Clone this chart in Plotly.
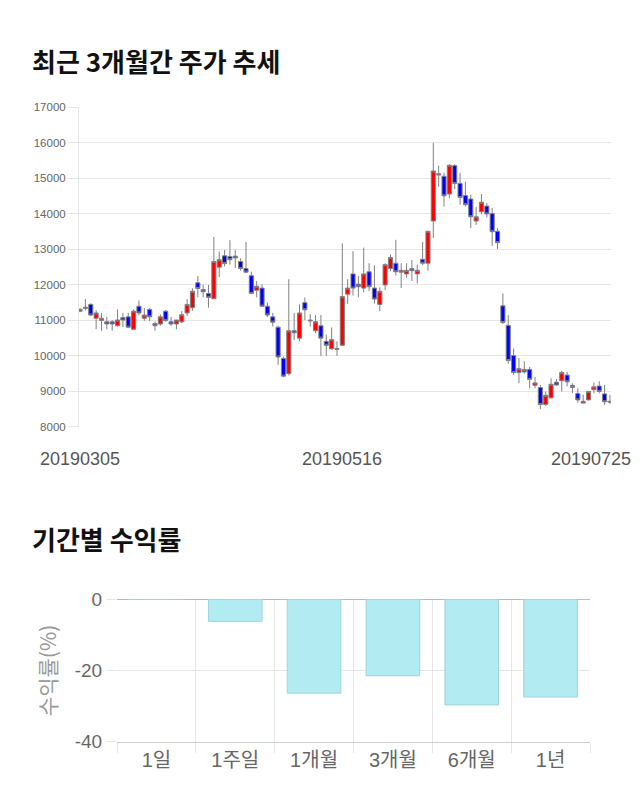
import plotly.graph_objects as go

# ---------------- data ----------------
march = [5, 6, 7, 8, 11, 12, 13, 14, 15, 18, 19, 20, 21, 22, 25, 26, 27, 28, 29]
april = [1, 2, 3, 4, 5, 8, 9, 10, 11, 12, 15, 16, 17, 18, 19, 22, 23, 24, 25, 26, 29, 30]
may = [2, 3, 7, 8, 9, 10, 13, 14, 15, 16, 17, 20, 21, 22, 23, 24, 27, 28, 29, 30, 31]
june = [3, 4, 5, 7, 10, 11, 12, 13, 14, 17, 18, 19, 20, 21, 24, 25, 26, 27, 28]
july = [1, 2, 3, 4, 5, 8, 9, 10, 11, 12, 15, 16, 17, 18, 19, 22, 23, 24, 25]
dates = ([f"201903{d:02d}" for d in march] + [f"201904{d:02d}" for d in april]
         + [f"201905{d:02d}" for d in may] + [f"201906{d:02d}" for d in june]
         + [f"201907{d:02d}" for d in july])

open_ = [11260, 11370, 11450, 11060, 11000, 10960, 10960, 10850, 11080, 11100,
         10750, 11400, 11060, 11310, 10910, 10900, 11260, 10960, 10900, 10960,
         11210, 11360, 12060, 11870, 11760, 11610, 12500, 12820, 12800, 12810,
         12660, 12460, 12260, 11850, 11910, 11400, 11100, 10810, 9930, 9500,
         10710, 10500, 11500, 11010, 10710, 10850, 10410, 10200, 10210, 10300,
         11740, 12310, 12020, 11910, 12370, 11910, 11450, 12000, 12460, 12610,
         12360, 12310, 12460, 12310, 12720, 12610, 13800, 15130, 15060, 14560,
         15360, 14860, 14520, 14420, 13800, 14060, 14220, 14010, 13510, 11410,
         10860, 10010, 9530, 9550, 9620, 9170, 9110, 8630, 8820, 9260,
         9300, 9460, 9170, 8940, 8670, 8760, 9050, 9150, 8930, 8720]
high = [11350, 11600, 11480, 11290, 11210, 11100, 11010, 11310, 11210, 11210,
        11310, 11560, 11350, 11350, 10970, 11170, 11290, 11100, 11020, 11260,
        11600, 11900, 12250, 12000, 12000, 13350, 12940, 12980, 13260, 12980,
        12750, 13210, 12370, 12110, 12020, 11510, 11210, 10850, 9980, 12160,
        11210, 11450, 11650, 11180, 11150, 11150, 10600, 10800, 10410, 13170,
        12160, 12950, 12250, 13050, 12610, 12550, 11930, 12610, 12860, 13270,
        12610, 12610, 12700, 12570, 13210, 13520, 16000, 15360, 15160, 15400,
        15400, 15160, 14900, 14540, 14200, 14560, 14310, 14170, 13600, 11760,
        11150, 10210, 9940, 9850, 9690, 9410, 9180, 9000, 9370, 9350,
        9580, 9550, 9230, 9090, 8910, 9010, 9250, 9290, 9180, 8900]
low = [11230, 11280, 11120, 10750, 10710, 10750, 10710, 10830, 10810, 10780,
       10750, 11150, 10990, 10980, 10710, 10850, 10960, 10850, 10750, 10920,
       11120, 11270, 11650, 11650, 11360, 11610, 12220, 12520, 12570, 12480,
       12400, 12340, 11740, 11650, 11380, 11100, 10830, 9750, 9400, 9450,
       10450, 10410, 11010, 10830, 10640, 10000, 10000, 10170, 10000, 10280,
       11470, 11700, 11650, 11790, 11830, 11470, 11260, 11850, 12380, 12260,
       11910, 12200, 12110, 12040, 12550, 12400, 13320, 14760, 14210, 14440,
       14700, 14260, 14210, 13600, 13690, 13990, 13900, 13100, 13010, 10900,
       9780, 9460, 9230, 9500, 9090, 9090, 8500, 8590, 8800, 9160,
       9000, 9140, 8950, 8680, 8670, 8750, 8950, 8950, 8620, 8650]
close = [11310, 11340, 11150, 11210, 11060, 10900, 10900, 11010, 11010, 10810,
         11260, 11210, 11150, 11100, 10850, 11100, 11000, 10900, 11010, 11160,
         11450, 11820, 11900, 11810, 11650, 12660, 12710, 12600, 12710, 12760,
         12460, 12360, 11760, 11960, 11400, 11150, 10950, 9970, 9430, 10710,
         10650, 11210, 11300, 10990, 10960, 10500, 10300, 10460, 10190, 11670,
         11910, 11910, 11950, 12310, 11950, 11600, 11820, 12570, 12770, 12370,
         12410, 12410, 12400, 12410, 12610, 13510, 15210, 15100, 14510, 15370,
         14860, 14460, 14260, 13920, 13920, 14330, 14000, 13500, 13190, 10940,
         9870, 9530, 9640, 9620, 9340, 9240, 8630, 8890, 9200, 9180,
         9530, 9270, 9110, 8760, 8720, 9000, 9130, 9000, 8710, 8700]

date_labels = ["20190305", "20190516", "20190725"]

periods = ["1일", "1주일", "1개월", "3개월", "6개월", "1년"]
returns = [0, -6.2, -26.4, -21.5, -29.7, -27.5]
ret_ticks = [0, -20, -40]
ret_tick_text = ["0", "-20", "-40"]

# ---------------- figure ----------------
W, H = 640, 810
fig = go.Figure()

fig.add_trace(go.Candlestick(
    x=dates, open=open_, high=high, low=low, close=close,
    increasing=dict(fillcolor="#ff0000", line=dict(color="#808080", width=1)),
    decreasing=dict(fillcolor="#0000ff", line=dict(color="#808080", width=1)),
    whiskerwidth=0, showlegend=False, hoverinfo="skip",
    xaxis="x", yaxis="y",
))

fig.add_trace(go.Bar(
    x=periods, y=returns, width=0.68,
    marker=dict(color="#b2ebf2", line=dict(color="#9fd3dc", width=1)),
    showlegend=False, hoverinfo="skip",
    xaxis="x2", yaxis="y2",
))

tick_font = dict(family="Liberation Sans, Arial, Noto Sans CJK KR", color="#666666")

fig.update_layout(
    width=W, height=H, autosize=False,
    margin=dict(l=0, r=0, t=0, b=0),
    paper_bgcolor="white", plot_bgcolor="white",
    boxgap=0.1, boxgroupgap=0.15,
    xaxis=dict(
        type="category", domain=[79 / W, 611 / W], range=[-0.2, 99.2],
        showgrid=False, showticklabels=False, ticks="", showline=False,
        zeroline=False, rangeslider=dict(visible=False), anchor="y",
    ),
    yaxis=dict(
        domain=[1 - 428 / H, 1 - 100 / H], range=[8000, 17000], dtick=1000,
        tickformat="d",
        gridcolor="#e6e6e6", ticks="outside", ticklen=10, tickcolor="#e6e6e6",
        showline=True, linecolor="#e6e6e6", zeroline=False,
        tickfont=dict(size=11.5, **tick_font), anchor="x",
    ),
    xaxis2=dict(
        type="category", domain=[117 / W, 590 / W], anchor="y2",
        tickson="boundaries", showgrid=True, gridcolor="#e6e6e6",
        ticks="outside", ticklen=10, tickcolor="#e6e6e6",
        showline=True, linecolor="#cccccc",
        tickfont=dict(size=20, **tick_font),
    ),
    yaxis2=dict(
        domain=[1 - 751 / H, 1 - 605 / H], range=[-40, 0], anchor="x2",
        tickmode="array", tickvals=ret_ticks, ticktext=ret_tick_text,
        gridcolor="#e6e6e6", zeroline=True, zerolinecolor="#bbbbbb", zerolinewidth=1,
        ticks="outside", ticklen=10, tickcolor="#e6e6e6",
        tickfont=dict(size=19, **tick_font),
        title=dict(text="수익률(%)", font=dict(size=21, color="#999999",
                   family="Noto Sans CJK KR"), standoff=12),
    ),
)

title_font = dict(family="Noto Sans CJK KR", size=26, color="#111111")
fig.add_annotation(text="<b>최근 3개월간 주가 추세</b>", xref="paper", yref="paper",
                   x=30 / W, y=1 - 52 / H, xanchor="left", yanchor="middle",
                   showarrow=False, font=title_font)
fig.add_annotation(text="<b>기간별 수익률</b>", xref="paper", yref="paper",
                   x=30 / W, y=1 - 543 / H, xanchor="left", yanchor="middle",
                   showarrow=False, font=title_font)

label_idx = [dates.index(d) for d in date_labels]
shifts = [0, -6, -19]
for d, i, s in zip(date_labels, label_idx, shifts):
    fig.add_annotation(text=d, xref="x", yref="paper", x=i, y=1 - 461 / H,
                       xanchor="center", yanchor="middle", xshift=s,
                       showarrow=False,
                       font=dict(size=18, family="Liberation Sans, Arial", color="#555555"))

fig.write_html("out.html")
